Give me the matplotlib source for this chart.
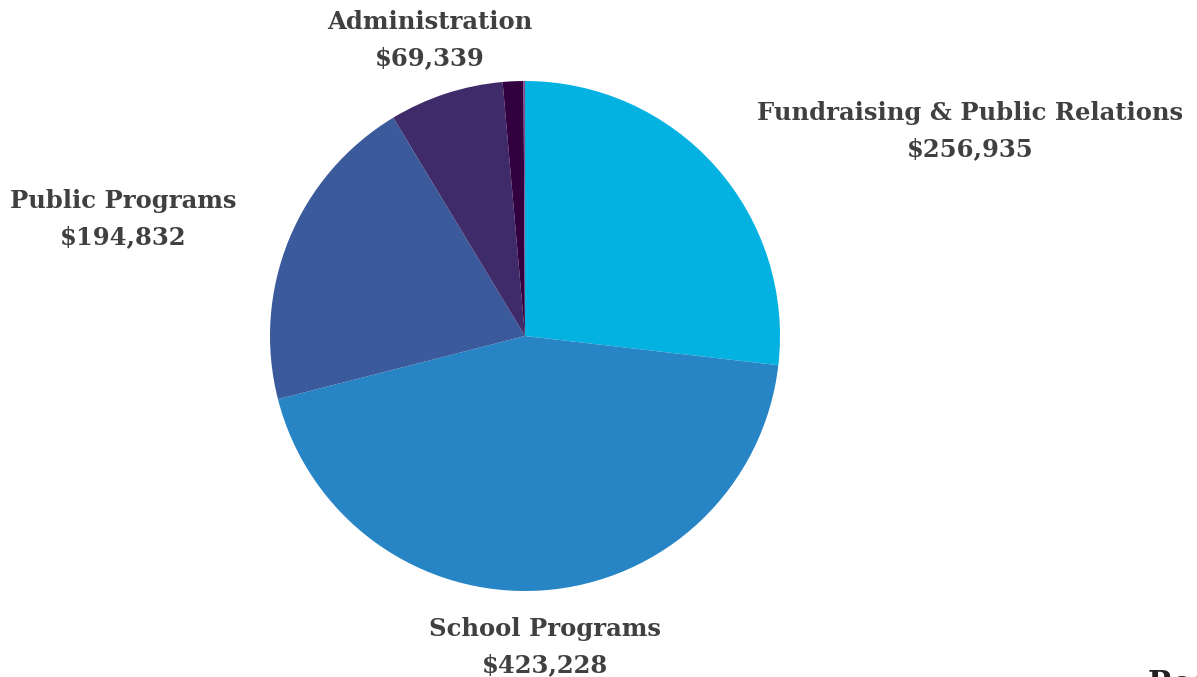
import matplotlib.pyplot as plt

# Expense breakdown (values read from the labels; the two tiny slices are estimated)
categories = ['Fundraising & Public Relations', 'School Programs', 'Public Programs',
              'Administration', 'Other', 'Misc']
amounts = [256935, 423228, 194832, 69339, 12500, 900]
colors = ['#04b2e2', '#2785c5', '#3b5a9c', '#3f2b6a', '#33003f', '#8a4a8c']

# label anchor points (pixel coords from top-left) for the labelled slices
label_pos = {
    'Fundraising & Public Relations': (970, 131),
    'School Programs': (545, 647),
    'Public Programs': (123, 219),
    'Administration': (430, 40),
}

W, H = 1197, 677
fig = plt.figure(figsize=(W / 100, H / 100), dpi=100)
ax = fig.add_axes([0, 0, 1, 1])

ax.pie(amounts, colors=colors, startangle=90, counterclock=False,
       center=(525, H - 336), radius=255, frame=True,
       wedgeprops=dict(linewidth=0))
ax.set_xlim(0, W)
ax.set_ylim(0, H)
ax.set_aspect('equal')
ax.axis('off')

for name, amt in zip(categories, amounts):
    if name not in label_pos:
        continue
    x, y = label_pos[name]
    ax.text(x, H - y, f'{name}\n${amt:,}', ha='center', va='center',
            fontsize=17.5, fontweight='bold', family='DejaVu Serif',
            color='#404040', linespacing=1.6)

# title text peeking in at the bottom-right edge (cut off in the original too)
ax.text(1148, H - 700, 'Research', ha='left', va='bottom', fontsize=22,
        fontweight='bold', family='DejaVu Serif', color='#222222', clip_on=True)

fig.savefig('out.png', dpi=100)
